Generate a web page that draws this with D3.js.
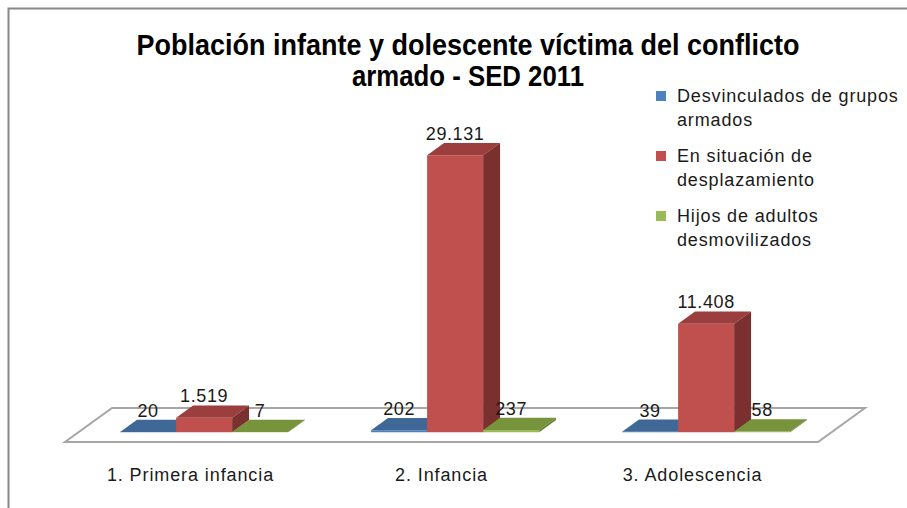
<!DOCTYPE html>
<html>
<head>
<meta charset="utf-8">
<script src="https://cdn.jsdelivr.net/npm/d3@7"></script>
<style>
  body { margin: 0; background: #fff; }
  svg { display: block; }
</style>
</head>
<body>
<div id="chart"></div>
<script>
// data
var categories = ["1. Primera infancia", "2. Infancia", "3. Adolescencia"];
var seriesNames = ["Desvinculados de grupos armados", "En situación de desplazamiento", "Hijos de adultos desmovilizados"];
var legendLines = [["Desvinculados de grupos", "armados"], ["En situación de", "desplazamiento"], ["Hijos de adultos", "desmovilizados"]];
var desvinculados = [20, 202, 39];
var desplazamiento = [1519, 29131, 11408];
var hijos = [7, 237, 58];
var titleLines = ["Población infante y dolescente víctima del conflicto", "armado - SED 2011"];

var seriesValues = [desvinculados, desplazamiento, hijos];
var seriesColors = [
  { "front": "#4f81bd", "top": "#3f6897", "side": "#375c87" },
  { "front": "#c0504d", "top": "#9a3f3d", "side": "#7a302e" },
  { "front": "#9bbb59", "top": "#77933c", "side": "#65802f" }
];

var width = 907, height = 508;
var floorY = 442;          // front edge of the floor
var depthX = 47, depthY = 34;  // oblique depth of the whole floor
var zFront = 0.29, zBack = 0.65;  // bars sit in the middle of the floor
var font = "'Liberation Sans', Arial, sans-serif";

var svg = d3.select("#chart").append("svg")
            .attr("width", width)
            .attr("height", height);

// chart border
svg.append("rect")
   .attr("x", 8.5)
   .attr("y", 8.5)
   .attr("width", width)
   .attr("height", height)
   .style("fill", "white")
   .style("stroke", "#878787")
   .style("stroke-width", 2);

var x0 = d3.scaleBand().domain(categories).range([65, 818]);
var x1 = d3.scaleBand().domain(seriesNames).range([0, x0.bandwidth()]).paddingOuter(0.74).paddingInner(0);
var y = d3.scaleLinear().domain([0, 29131]).range([0, 277]);

function px(x, z) { return x + z * depthX; }
function py(h, z) { return floorY - h - z * depthY; }
function pt(x, h, z) { return px(x, z) + "," + py(h, z); }

// floor
var fx = x0.range();
svg.append("polygon")
   .attr("points", [pt(fx[0], 0, 0), pt(fx[1], 0, 0), pt(fx[1], 0, 1), pt(fx[0], 0, 1)].join(" "))
   .style("fill", "white")
   .style("stroke", "#a6a6a6")
   .style("stroke-width", 2);

// flatten into bar records
var barData = [];
categories.forEach(function (c, ci) {
  seriesNames.forEach(function (s, si) {
    barData.push({ "cat": c, "series": s, "si": si, "value": seriesValues[si][ci] });
  });
});

var bars = svg.selectAll("g.bar")
              .data(barData)
              .enter()
              .append("g")
              .attr("class", "bar");

bars.append("polygon")   // front face
    .attr("points", function (d) {
      var x = x0(d.cat) + x1(d.series), w = x1.bandwidth(), h = y(d.value);
      return [pt(x, 0, zFront), pt(x + w, 0, zFront), pt(x + w, h, zFront), pt(x, h, zFront)].join(" ");
    })
    .style("fill", function (d) { return seriesColors[d.si].front; });

bars.append("polygon")   // top face
    .attr("points", function (d) {
      var x = x0(d.cat) + x1(d.series), w = x1.bandwidth(), h = y(d.value);
      return [pt(x, h, zFront), pt(x + w, h, zFront), pt(x + w, h, zBack), pt(x, h, zBack)].join(" ");
    })
    .style("fill", function (d) { return seriesColors[d.si].top; });

bars.append("polygon")   // right side face
    .attr("points", function (d) {
      var x = x0(d.cat) + x1(d.series), w = x1.bandwidth(), h = y(d.value);
      return [pt(x + w, 0, zFront), pt(x + w, 0, zBack), pt(x + w, h, zBack), pt(x + w, h, zFront)].join(" ");
    })
    .style("fill", function (d) { return seriesColors[d.si].side; });

// value labels
var fmt = d3.formatLocale({ "decimal": ",", "thousands": ".", "grouping": [3], "currency": ["", ""] }).format(",d");
svg.selectAll("text.value")
   .data(barData)
   .enter()
   .append("text")
   .attr("class", "value")
   .attr("x", function (d) { return px(x0(d.cat) + x1(d.series) + x1.bandwidth() / 2, zFront); })
   .attr("y", function (d) { return py(y(d.value), zBack) - 3; })
   .attr("text-anchor", "middle")
   .style("font-family", font)
   .style("font-size", "18px")
   .style("letter-spacing", "0.6px")
   .style("fill", "#1a1a1a")
   .text(function (d) { return fmt(d.value); });

// category labels
svg.selectAll("text.cat")
   .data(categories)
   .enter()
   .append("text")
   .attr("class", "cat")
   .attr("x", function (d) { return x0(d) + x0.bandwidth() / 2; })
   .attr("y", 481)
   .attr("text-anchor", "middle")
   .style("font-family", font)
   .style("font-size", "18px")
   .style("letter-spacing", "0.9px")
   .style("fill", "#1a1a1a")
   .text(function (d) { return d; });

// title
var titleWidths = [663, 232];
svg.selectAll("text.title")
   .data(titleLines)
   .enter()
   .append("text")
   .attr("class", "title")
   .attr("x", 468)
   .attr("y", function (d, i) { return 55 + i * 31; })
   .attr("text-anchor", "middle")
   .attr("textLength", function (d, i) { return titleWidths[i]; })
   .attr("lengthAdjust", "spacingAndGlyphs")
   .style("font-family", "'Liberation Sans Narrow', 'Liberation Sans', Arial, sans-serif")
   .style("font-weight", "bold")
   .style("font-size", "30px")
   .style("fill", "black")
   .text(function (d) { return d; });

// legend
var legend = svg.selectAll("g.legend")
                .data(legendLines)
                .enter()
                .append("g")
                .attr("class", "legend")
                .attr("transform", function (d, i) { return "translate(0," + (102 + i * 60) + ")"; });

legend.append("rect")
      .attr("x", 656)
      .attr("y", -11)
      .attr("width", 10)
      .attr("height", 10)
      .style("fill", function (d, i) { return seriesColors[i].front; });

legend.selectAll("text")
      .data(function (d) { return d; })
      .enter()
      .append("text")
      .attr("x", 677)
      .attr("y", function (d, i) { return i * 24; })
      .style("font-family", font)
      .style("font-size", "18px")
      .style("letter-spacing", "0.85px")
      .style("fill", "#1a1a1a")
      .text(function (d) { return d; });
</script>
</body>
</html>
